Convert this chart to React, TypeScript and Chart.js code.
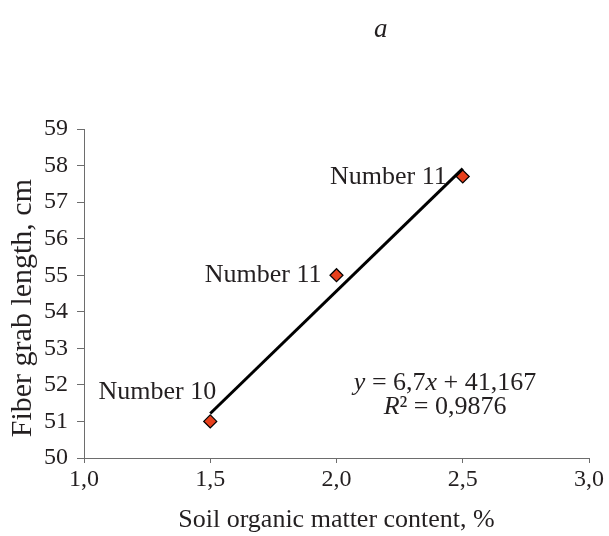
import React, { useEffect, useRef } from "react";
import { Chart, registerables } from "chart.js";

Chart.register(...registerables);

const FONT = "'Liberation Serif', 'Times New Roman', serif";
const TEXT = "#231f20";

// ---- data ----
const xMin = 1.0;
const xMax = 3.0;
const xStep = 0.5;
const yMin = 50;
const yMax = 59;
const yStep = 1;

const organicMatter = [1.5, 2.0, 2.5];
const fiberLength = [51.0, 55.0, 57.7];
const pointNames = ["Number 10", "Number 11", "Number 11"];

const trendX = [1.5, 2.5];
const trendY = [51.217, 57.917];

const equationText = "y = 6,7x + 41,167";
const r2Text = "R² = 0,9876";
const panelLetter = "a";
const xTitle = "Soil organic matter content, %";
const yTitle = "Fiber grab length, cm";

// ---- styling (offsets in px, not data) ----
const labelOffsets = [
  { dx: 6, dy: -29 },
  { dx: -15, dy: 0 },
  { dx: -16, dy: 1 },
];

function drawSegments(ctx: CanvasRenderingContext2D, segs: [string, boolean][], cx: number, cy: number, size: number) {
  let total = 0;
  const widths = segs.map(([t, it]) => {
    ctx.font = `${it ? "italic " : ""}${size}px ${FONT}`;
    const w = ctx.measureText(t).width;
    total += w;
    return w;
  });
  let x = cx - total / 2;
  segs.forEach(([t, it], i) => {
    ctx.font = `${it ? "italic " : ""}${size}px ${FONT}`;
    ctx.textAlign = "left";
    ctx.textBaseline = "middle";
    ctx.fillText(t, x, cy);
    x += widths[i];
  });
}

const annotations = {
  id: "annotations",
  afterDatasetsDraw(chart: any) {
    const { ctx, scales } = chart;
    const xs = scales.x;
    const ys = scales.y;
    ctx.save();
    ctx.fillStyle = TEXT;
    // point labels
    ctx.font = `26px ${FONT}`;
    ctx.textAlign = "right";
    ctx.textBaseline = "middle";
    organicMatter.forEach((xv, i) => {
      const px = xs.getPixelForValue(xv);
      const py = ys.getPixelForValue(fiberLength[i]);
      const off = labelOffsets[i];
      ctx.fillText(pointNames[i], px + off.dx, py + off.dy);
    });
    // regression equation
    const ex = xs.getPixelForValue(2.43);
    const eq = equationText.split(/(y|x)/).filter((s) => s.length > 0);
    drawSegments(
      ctx,
      eq.map((s) => [s, s === "y" || s === "x"] as [string, boolean]),
      ex,
      ys.getPixelForValue(52.05),
      26
    );
    drawSegments(
      ctx,
      [["R", true], [r2Text.slice(1), false]],
      ex,
      ys.getPixelForValue(51.4),
      26
    );
    // y-axis title
    ctx.save();
    ctx.translate(23, ys.getPixelForValue(54.1));
    ctx.rotate(-Math.PI / 2);
    ctx.font = `30px ${FONT}`;
    ctx.textAlign = "center";
    ctx.textBaseline = "middle";
    ctx.fillText(yTitle, 0, 0);
    ctx.restore();
    // panel letter
    ctx.font = `italic 27px ${FONT}`;
    ctx.textAlign = "center";
    ctx.textBaseline = "middle";
    ctx.fillText(panelLetter, chart.width * 0.625, 30);
    ctx.restore();
  },
};

export default function App() {
  const ref = useRef<HTMLCanvasElement | null>(null);

  useEffect(() => {
    if (!ref.current) return;
    const chart = new Chart(ref.current, {
      type: "scatter",
      data: {
        datasets: [
          {
            type: "scatter",
            data: organicMatter.map((x, i) => ({ x, y: fiberLength[i] })),
            pointStyle: "rectRot",
            pointRadius: 6.5,
            pointHoverRadius: 6.5,
            backgroundColor: "#e8401c",
            borderColor: "#000",
            borderWidth: 1.2,
          },
          {
            type: "line",
            data: trendX.map((x, i) => ({ x, y: trendY[i] })),
            borderColor: "#000",
            borderWidth: 3,
            pointRadius: 0,
            fill: false,
          } as any,
        ],
      },
      options: {
        animation: false,
        responsive: false,
        events: [],
        layout: { padding: { top: 129, right: 20, left: 0, bottom: 0 } },
        plugins: {
          legend: { display: false },
          tooltip: { enabled: false },
        },
        scales: {
          x: {
            type: "linear",
            min: xMin,
            max: xMax,
            ticks: {
              stepSize: xStep,
              color: TEXT,
              font: { family: FONT, size: 24 },
              padding: 2,
              callback: (v: any) => Number(v).toFixed(1).replace(".", ","),
            },
            grid: { drawOnChartArea: false, drawTicks: true, tickLength: 5, color: "#6d6d6d" },
            border: { color: "#6d6d6d", width: 1 },
            title: {
              display: true,
              text: xTitle,
              color: TEXT,
              font: { family: FONT, size: 26 },
              padding: { top: 0, bottom: 0 },
            },
            afterFit: (s: any) => {
              s.height = 78;
            },
          },
          y: {
            type: "linear",
            min: yMin,
            max: yMax,
            ticks: {
              stepSize: yStep,
              color: TEXT,
              font: { family: FONT, size: 24 },
              padding: 9,
            },
            grid: { drawOnChartArea: false, drawTicks: true, tickLength: 7, color: "#6d6d6d" },
            border: { color: "#6d6d6d", width: 1 },
            title: { display: false, text: yTitle },
            afterFit: (s: any) => {
              s.width = 84;
            },
          },
        },
      },
      plugins: [annotations],
    });
    return () => chart.destroy();
  }, []);

  return (
    <div style={{ position: "fixed", left: 0, top: 0, width: 609, height: 536, background: "#fff" }}>
      <canvas ref={ref} width={609} height={536} style={{ width: 609, height: 536 }} />
    </div>
  );
}
